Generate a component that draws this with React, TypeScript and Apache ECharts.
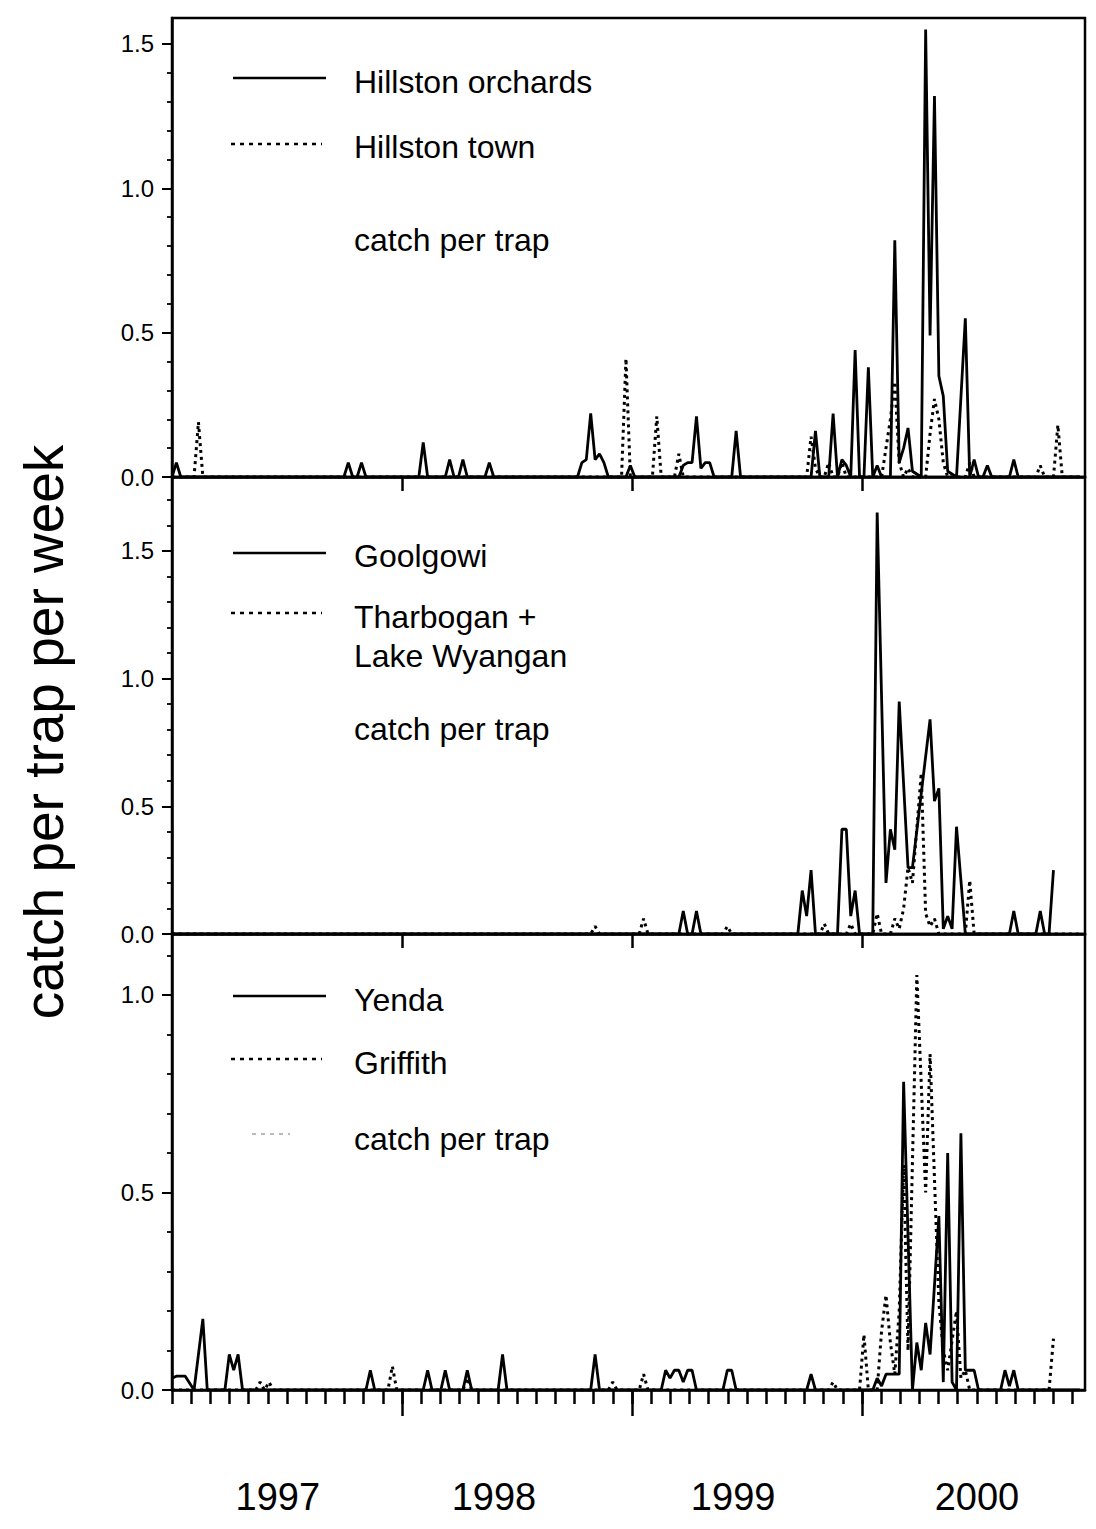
import React, { useEffect, useRef } from "react";
import * as echarts from "echarts";

const FONT = '"Liberation Sans", Arial, Helvetica, sans-serif';

// Sampling weeks are counted from 1 January 1997.
const WEEKS_PER_YEAR = 52.18;

// [week, catch per trap per week]
const hillstonOrchards: [number, number][] = [
  [0, 0], [1, 0.05], [2, 0],
  [39, 0], [40, 0.05], [41, 0], [42, 0], [43, 0.05], [44, 0],
  [56, 0], [57, 0.12], [58, 0],
  [62, 0], [63, 0.06], [64, 0], [65, 0], [66, 0.06], [67, 0],
  [71, 0], [72, 0.05], [73, 0],
  [92, 0], [93, 0.05], [94, 0.06], [95, 0.22], [96, 0.06], [97, 0.08], [98, 0.05], [99, 0],
  [103, 0], [104, 0.04], [105, 0],
  [115, 0], [116, 0.04], [117, 0.05], [118, 0.05], [119, 0.21], [120, 0.03], [121, 0.05], [122, 0.05], [123, 0],
  [127, 0], [128, 0.16], [129, 0],
  [145, 0], [146, 0.16], [147, 0], [149, 0], [150, 0.22], [151, 0], [152, 0.06], [153, 0.04], [154, 0],
  [155, 0.44], [156, 0], [157, 0], [158, 0.38], [159, 0], [160, 0.04], [161, 0], [163, 0],
  [164, 0.82], [165, 0.05], [166, 0.1], [167, 0.17], [168, 0.02], [170, 0],
  [171, 1.55], [172, 0.49], [173, 1.32], [174, 0.35], [175, 0.28], [176, 0.02], [178, 0],
  [180, 0.55], [181, 0], [182, 0.06], [183, 0], [184, 0], [185, 0.04], [186, 0],
  [190, 0], [191, 0.06], [192, 0], [206, 0],
];

const hillstonTown: [number, number][] = [
  [0, 0], [5, 0], [6, 0.19], [7, 0],
  [102, 0], [103, 0.41], [104, 0],
  [109, 0], [110, 0.21], [111, 0],
  [114, 0], [115, 0.08], [116, 0],
  [144, 0], [145, 0.14], [146, 0.03], [147, 0], [148, 0], [149, 0.05], [150, 0], [151, 0], [152, 0.05], [153, 0],
  [161, 0], [162, 0.1], [163, 0.2], [164, 0.33], [165, 0.05], [166, 0], [167, 0.03], [168, 0],
  [171, 0], [172, 0.15], [173, 0.27], [174, 0.2], [175, 0.05], [176, 0],
  [180, 0], [181, 0.05], [182, 0],
  [196, 0], [197, 0.04], [198, 0], [200, 0], [201, 0.18], [202, 0], [206, 0],
];

const goolgowi: [number, number][] = [
  [0, 0], [115, 0], [116, 0.09], [117, 0], [118, 0], [119, 0.09], [120, 0],
  [142, 0], [143, 0.17], [144, 0.07], [145, 0.25], [146, 0],
  [151, 0], [152, 0.41], [153, 0.41], [154, 0.07], [155, 0.17], [156, 0],
  [159, 0], [160, 1.65], [162, 0.2], [163, 0.41], [164, 0.33], [165, 0.91],
  [167, 0.26], [168, 0.26], [172, 0.84], [173, 0.52], [174, 0.57], [175, 0.02],
  [176, 0.07], [177, 0.02], [178, 0.42], [180, 0],
  [190, 0], [191, 0.09], [192, 0], [196, 0], [197, 0.09], [198, 0], [199, 0], [200, 0.25],
];

const tharboganLakeWyangan: [number, number][] = [
  [0, 0], [95, 0], [96, 0.03], [97, 0], [106, 0], [107, 0.06], [108, 0], [125, 0], [126, 0.03], [127, 0],
  [147, 0], [148, 0.04], [149, 0], [153, 0], [154, 0.04], [155, 0], [159, 0], [160, 0.08], [161, 0],
  [163, 0], [164, 0.06], [165, 0.02], [166, 0.1], [167, 0.26], [168, 0.2], [170, 0.63], [171, 0.08],
  [172, 0.03], [173, 0.06], [174, 0], [180, 0], [181, 0.21], [182, 0], [206, 0],
];

const yenda: [number, number][] = [
  [0, 0.03], [1, 0.035], [3, 0.035], [5, 0], [7, 0.18], [8, 0],
  [12, 0], [13, 0.09], [14, 0.05], [15, 0.09], [16, 0],
  [44, 0], [45, 0.05], [46, 0],
  [57, 0], [58, 0.05], [59, 0], [61, 0], [62, 0.05], [63, 0], [66, 0], [67, 0.05], [68, 0],
  [74, 0], [75, 0.09], [76, 0],
  [95, 0], [96, 0.09], [97, 0],
  [111, 0], [112, 0.05], [113, 0.03], [114, 0.05], [115, 0.05], [116, 0.02], [117, 0.05], [118, 0.05], [119, 0],
  [125, 0], [126, 0.05], [127, 0.05], [128, 0],
  [144, 0], [145, 0.04], [146, 0],
  [159, 0], [160, 0.03], [161, 0.01], [162, 0.04], [165, 0.04], [166, 0.78], [168, 0],
  [169, 0.12], [170, 0.05], [171, 0.17], [172, 0.09], [174, 0.44], [175, 0.02],
  [176, 0.6], [177, 0.02], [178, 0], [179, 0.65], [180, 0.05], [182, 0.05], [183, 0],
  [188, 0], [189, 0.05], [190, 0.01], [191, 0.05], [192, 0], [206, 0],
];

const griffith: [number, number][] = [
  [0, 0], [19, 0], [20, 0.02], [21, 0], [22, 0.02], [23, 0],
  [49, 0], [50, 0.06], [51, 0],
  [66, 0], [67, 0.03], [68, 0],
  [99, 0], [100, 0.02], [101, 0],
  [106, 0], [107, 0.04], [108, 0],
  [149, 0], [150, 0.02], [151, 0],
  [156, 0], [157, 0.14], [158, 0],
  [160, 0], [161, 0.15], [162, 0.24], [163, 0.12], [164, 0.04], [165, 0.2], [166, 0.57], [167, 0.1],
  [169, 1.05], [171, 0.5], [172, 0.85], [174, 0.22], [175, 0.1], [176, 0.05], [178, 0.2],
  [179, 0.03], [180, 0.05], [181, 0],
  [199, 0], [200, 0.13],
];

const yearLabels = ["1997", "1998", "1999", "2000"];
const yearLabelAt = [1997.46, 1998.4, 1999.44, 2000.5];
const yearTicks = [1998, 1999, 2000];
const yTickLabels = [
  [0, 0.5, 1.0, 1.5],
  [0, 0.5, 1.0, 1.5],
  [0, 0.5, 1.0],
];
const axisMax = [1.59, 1.789, 1.154];
const X_MIN = 1997;
const X_MAX = 2000.97;

const panels = [
  { solidName: "Hillston orchards", dottedName: "Hillston town", solid: hillstonOrchards, dotted: hillstonTown },
  { solidName: "Goolgowi", dottedName: "Tharbogan + Lake Wyangan", solid: goolgowi, dotted: tharboganLakeWyangan },
  { solidName: "Yenda", dottedName: "Griffith", solid: yenda, dotted: griffith },
];

const toYear = (w: number) => X_MIN + w / WEEKS_PER_YEAR;
const toSeriesData = (pts: [number, number][]) => pts.map(([w, v]) => [toYear(w), v]);

const monthTicks = Array.from({ length: 48 }, (_, m) => X_MIN + m / 12);
const minorTicks = (max: number) =>
  Array.from({ length: Math.floor(max * 10 + 1e-6) + 1 }, (_, i) => i / 10);

const BLACK = "#000";

function buildOption() {
  const grids = [
    { left: 172, top: 18, width: 913, height: 459 },
    { left: 172, top: 477, width: 913, height: 457 },
    { left: 172, top: 934, width: 913, height: 456 },
  ].map((g) => ({ ...g, show: true, borderColor: BLACK, borderWidth: 2.5, backgroundColor: "transparent" }));

  const baseX = (gridIndex: number) => ({
    type: "value",
    gridIndex,
    min: X_MIN,
    max: X_MAX,
    position: "bottom",
    splitLine: { show: false },
    axisLine: { show: true, lineStyle: { color: BLACK, width: 2.5 } },
  });

  const tickStyle = { color: BLACK, width: 2.5 };

  const xAxis: any[] = [
    { ...baseX(0), axisTick: { customValues: yearTicks, length: 14, lineStyle: tickStyle }, axisLabel: { show: false } },
    { ...baseX(1), axisTick: { customValues: yearTicks, length: 14, lineStyle: tickStyle }, axisLabel: { show: false } },
    { ...baseX(2), axisTick: { customValues: monthTicks, length: 14, lineStyle: tickStyle }, axisLabel: { show: false } },
    {
      ...baseX(2),
      axisLine: { show: false },
      axisTick: { customValues: yearTicks, length: 26, lineStyle: tickStyle },
      axisLabel: {
        customValues: yearLabelAt,
        formatter: (v: number) => yearLabels[yearLabelAt.findIndex((p) => Math.abs(p - v) < 1e-6)] ?? "",
        fontFamily: FONT,
        fontSize: 38,
        color: BLACK,
        margin: 88,
      },
    },
  ];

  const yAxis: any[] = [];
  [0, 1, 2].forEach((i) => {
    yAxis.push({
      type: "value",
      gridIndex: i,
      min: 0,
      max: axisMax[i],
      position: "left",
      splitLine: { show: false },
      axisLine: { show: true, lineStyle: { color: BLACK, width: 2.5 } },
      axisTick: { customValues: yTickLabels[i], length: 10, lineStyle: { color: BLACK, width: 2 } },
      axisLabel: {
        customValues: yTickLabels[i],
        formatter: (v: number) => v.toFixed(1),
        fontFamily: FONT,
        fontSize: 24,
        color: BLACK,
        margin: 18,
      },
    });
    yAxis.push({
      type: "value",
      gridIndex: i,
      min: 0,
      max: axisMax[i],
      position: "left",
      splitLine: { show: false },
      axisLine: { show: false },
      axisTick: { customValues: minorTicks(axisMax[i]), length: 5, lineStyle: { color: BLACK, width: 1.8 } },
      axisLabel: { show: false },
    });
  });

  const series: any[] = [];
  panels.forEach((p, i) => {
    series.push({
      name: p.dottedName,
      type: "line",
      xAxisIndex: i === 2 ? 2 : i,
      yAxisIndex: i * 2,
      data: toSeriesData(p.dotted),
      symbol: "none",
      lineStyle: { color: BLACK, width: 3, type: [3, 4] },
      z: 3,
    });
    series.push({
      name: p.solidName,
      type: "line",
      xAxisIndex: i === 2 ? 2 : i,
      yAxisIndex: i * 2,
      data: toSeriesData(p.solid),
      symbol: "none",
      lineStyle: { color: BLACK, width: 2.8 },
      z: 4,
    });
  });

  // legend samples and captions inside each panel
  const sample = (x1: number, x2: number, y: number, dotted: boolean, faint = false) => ({
    type: "line",
    shape: { x1, y1: y, x2, y2: y },
    style: {
      stroke: faint ? "#777" : BLACK,
      lineWidth: faint ? 1.2 : 2.5,
      lineDash: dotted ? [4, 5] : null,
    },
  });
  const caption = (text: string, y: number) => ({
    type: "text",
    x: 354,
    y,
    style: { text, font: `32px ${FONT}`, fill: BLACK, align: "left", verticalAlign: "middle" },
  });

  const graphic: any[] = [
    sample(233, 326, 78, false),
    caption("Hillston orchards", 82),
    sample(231, 322, 144, true),
    caption("Hillston town", 147),
    caption("catch per trap", 240),

    sample(233, 326, 553, false),
    caption("Goolgowi", 556),
    sample(231, 322, 613, true),
    caption("Tharbogan +", 617),
    caption("Lake Wyangan", 656),
    caption("catch per trap", 729),

    sample(233, 326, 996, false),
    caption("Yenda", 1000),
    sample(231, 322, 1059, true),
    caption("Griffith", 1063),
    sample(252, 290, 1134, true, true),
    caption("catch per trap", 1139),

    {
      type: "text",
      x: 44,
      y: 732,
      rotation: Math.PI / 2,
      style: {
        text: "catch per trap per week",
        font: `55px ${FONT}`,
        fill: BLACK,
        align: "center",
        verticalAlign: "middle",
      },
    },
  ];

  return {
    animation: false,
    backgroundColor: "#fff",
    grid: grids,
    xAxis,
    yAxis,
    series,
    graphic,
  };
}

export default function App() {
  const ref = useRef<HTMLDivElement>(null);

  useEffect(() => {
    if (!ref.current) return;
    const chart = echarts.init(ref.current, undefined, { renderer: "svg" });
    chart.setOption(buildOption() as any);
    return () => chart.dispose();
  }, []);

  return (
    <div
      ref={ref}
      style={{ position: "absolute", left: 0, top: 0, width: 1096, height: 1529, background: "#fff" }}
    />
  );
}
